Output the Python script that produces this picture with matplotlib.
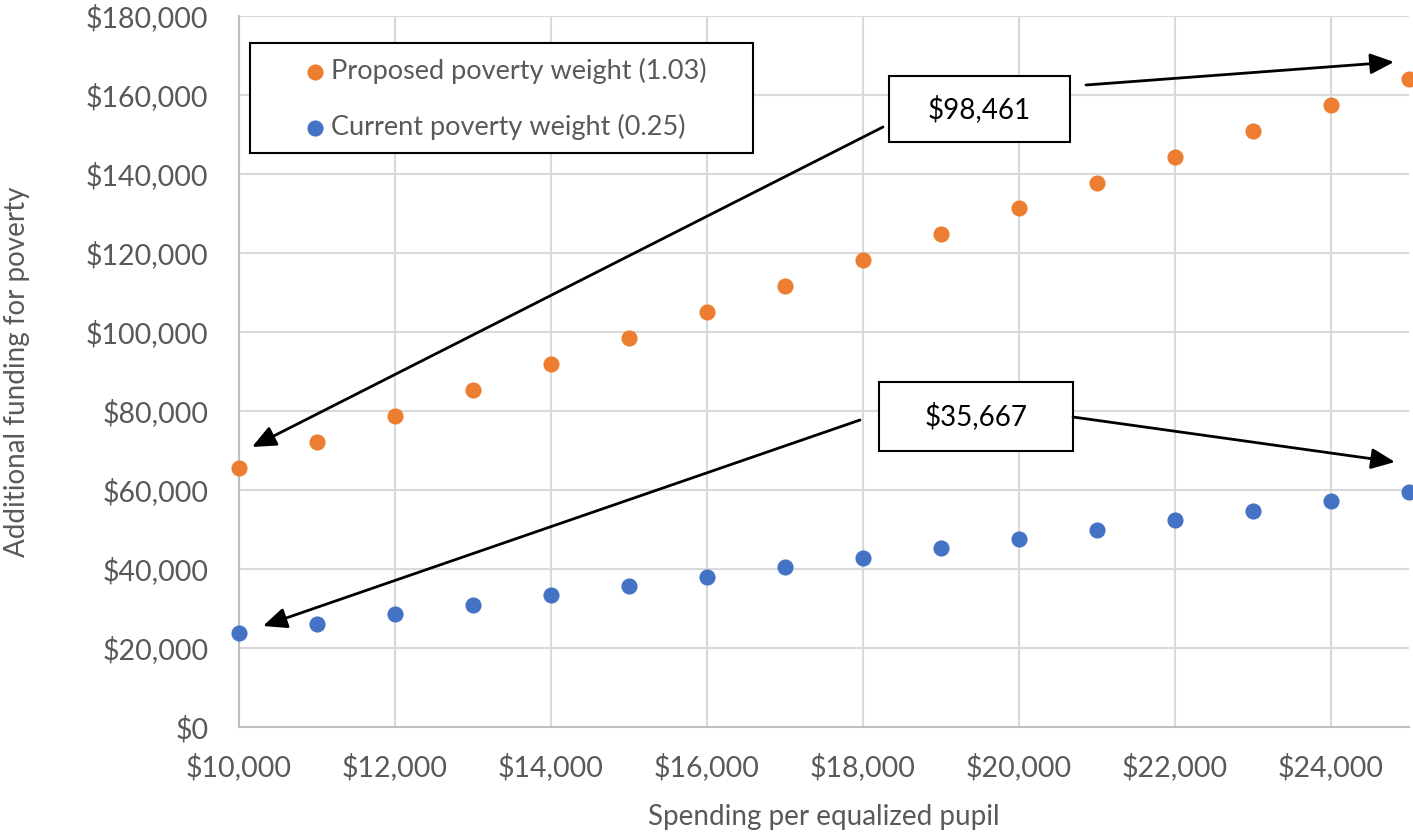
import matplotlib
matplotlib.use("Agg")
import matplotlib.pyplot as plt
from matplotlib.patches import Rectangle
from matplotlib.ticker import FuncFormatter, MultipleLocator

# ---- data ----
spending = [10000, 11000, 12000, 13000, 14000, 15000, 16000, 17000,
            18000, 19000, 20000, 21000, 22000, 23000, 24000, 25000]
proposed = [65600, 72200, 78800, 85300, 91900, 98461, 105000, 111600,
            118200, 124700, 131300, 137800, 144400, 151000, 157500, 164100]
current = [23800, 26200, 28500, 30900, 33300, 35667, 38000, 40400,
           42800, 45200, 47600, 49900, 52300, 54700, 57100, 59400]
series_labels = ["Proposed poverty weight (1.03)", "Current poverty weight (0.25)"]
callout_labels = ["$98,461", "$35,667"]
x_title = "Spending per equalized pupil"
y_title = "Additional funding for poverty"

ORANGE = "#ED7D31"
BLUE = "#4472C4"
GRAY_TXT = "#595959"
FONT = ["Lato", "DejaVu Sans"]

W, H = 1413, 832
plt.rcParams['font.family'] = FONT
fig = plt.figure(figsize=(W / 100, H / 100), dpi=100)

def fx(px):
    return px / W

def fy(py):
    return 1 - py / H

ax = fig.add_axes([fx(239), fy(727), fx(1409) - fx(239), fy(16) - fy(727)])
ax.set_xlim(10000, 25000)
ax.set_ylim(0, 180000)

ax.scatter(spending, proposed, s=135, color=ORANGE, zorder=3, clip_on=False,
           label=series_labels[0], linewidths=0)
ax.scatter(spending, current, s=135, color=BLUE, zorder=3, clip_on=False,
           label=series_labels[1], linewidths=0)

ax.xaxis.set_major_locator(MultipleLocator(2000))
ax.yaxis.set_major_locator(MultipleLocator(20000))
fmt = FuncFormatter(lambda v, p: "${:,.0f}".format(v))
ax.xaxis.set_major_formatter(fmt)
ax.yaxis.set_major_formatter(fmt)
ax.grid(True, color="#d9d9d9", linewidth=1.5, zorder=0)
ax.set_axisbelow(True)
for s in ["top", "right"]:
    ax.spines[s].set_visible(False)
for s in ["left", "bottom"]:
    ax.spines[s].set_color("#bfbfbf")
    ax.spines[s].set_linewidth(1.5)
ax.tick_params(length=0, labelsize=20.5, labelcolor=GRAY_TXT)
ax.tick_params(axis="y", pad=22)
ax.tick_params(axis="x", pad=19)
ax.set_xlabel(x_title, fontsize=20, color=GRAY_TXT, labelpad=16)
ax.set_ylabel(y_title, fontsize=20, color=GRAY_TXT)
ax.yaxis.set_label_coords((30 - 239) / 1170, 0.5)

# legend (frame drawn separately)
leg = ax.legend(loc="upper left", bbox_to_anchor=(fx(301), fy(58)),
                bbox_transform=fig.transFigure, frameon=False,
                fontsize=19.5, handletextpad=0.1, handlelength=1.0,
                borderpad=0, labelspacing=1.1, borderaxespad=0,
                markerscale=1.0)
for t in leg.get_texts():
    t.set_color(GRAY_TXT)
leg.set_zorder(8)
ax.add_patch(Rectangle((fx(250), fy(153)), fx(753) - fx(250), fy(43) - fy(153),
                       transform=fig.transFigure, facecolor="white",
                       edgecolor="black", linewidth=1.5, zorder=4, clip_on=False))

# callout boxes
def box(x0, y0, x1, y1, text):
    ax.add_patch(Rectangle((fx(x0), fy(y1)), fx(x1) - fx(x0), fy(y0) - fy(y1),
                           transform=fig.transFigure, facecolor="white",
                           edgecolor="black", linewidth=1.5, zorder=5, clip_on=False))
    ax.text(fx((x0 + x1) / 2), fy((y0 + y1) / 2), text, ha="center", va="center",
            fontsize=20, color="black", zorder=6, transform=fig.transFigure)

def arrow(x0, y0, x1, y1):
    ax.annotate("", xy=(x1, H - y1), xycoords="figure pixels",
                xytext=(x0, H - y0), textcoords="figure pixels",
                arrowprops=dict(arrowstyle="-|>,head_length=0.8,head_width=0.35",
                                color="black", linewidth=2, mutation_scale=18,
                                shrinkA=0, shrinkB=0), zorder=6)

box(889, 76, 1070, 142, callout_labels[0])
box(879, 382, 1073, 451, callout_labels[1])
arrow(883, 127, 252, 447)
arrow(1086, 85, 1394, 62)
arrow(860, 420, 263, 626)
arrow(1073, 417, 1395, 462)

fig.savefig("out.png", dpi=100)
